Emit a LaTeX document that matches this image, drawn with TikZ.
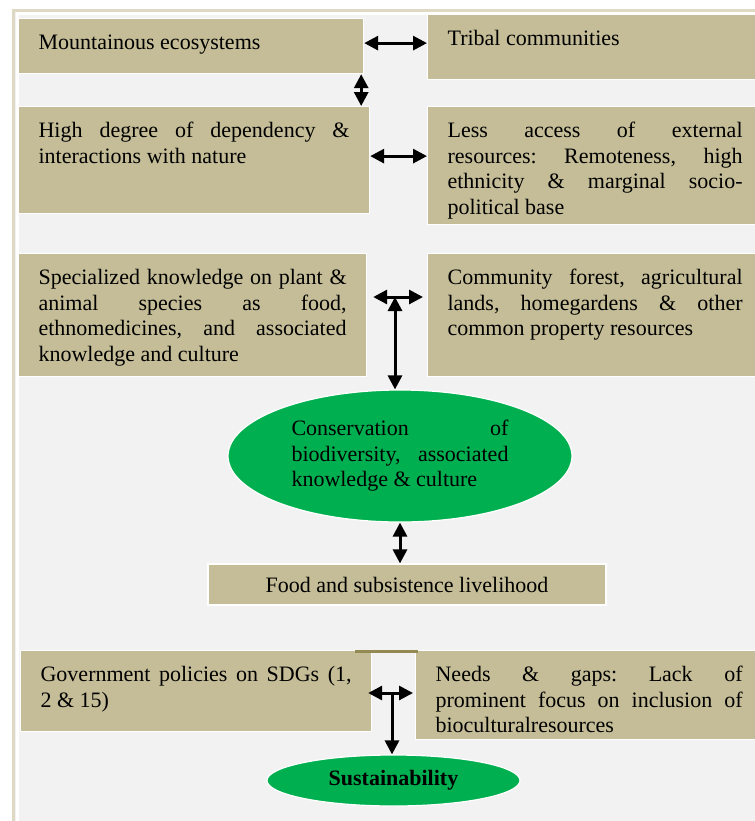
\documentclass[tikz,border=0pt]{standalone}
\usepackage{fontspec}
\setmainfont{Liberation Serif}
\usetikzlibrary{arrows.meta,shapes.geometric}
\frenchspacing
\definecolor{WordTan}{RGB}{196,189,151}
\definecolor{PanelGrey}{RGB}{242,242,242}
\definecolor{FrameTan}{RGB}{221,217,195}
\definecolor{LeafGreen}{RGB}{0,176,80}
\definecolor{OliveLine}{RGB}{148,138,84}
\colorlet{ColourBox}{WordTan}
\colorlet{ColourHl}{LeafGreen}
\tikzset{
  flow text/.style={
    font=\fontsize{11}{12.75}\selectfont\frenchspacing
  },
  tan box/.style={
    flow text,
    anchor=north west,
    fill=ColourBox, draw=white, line width=.6pt,
    align=justify,
    inner xsep=10pt, inner ysep=7pt,
    text height=8.5pt,
  },
  tan strip/.style={
    flow text,
    fill=ColourBox, draw=white, line width=.6pt,
    inner sep=0pt,
  },
  green blob/.style={
    flow text,
    ellipse, fill=ColourHl, draw=white, line width=.6pt,
    inner sep=0pt,
  },
}
\tikzset{
  link/.style={
    line width=1.5pt,
    >={Triangle[length=7pt,width=7pt]}, <->,
  },
  one way/.style={
    line width=1.5pt,
    >={Triangle[length=7pt,width=7pt]}, ->,
  },
}

\begin{document}
\begin{tikzpicture}[x=.5pt,y=-.5pt]
  \useasboundingbox (0,0) rectangle (755,821);
  \fill[white] (0,0) rectangle (755,821);
  \draw[FrameTan, line width=1.5pt, fill=PanelGrey] (13.5,10) rectangle (790,850);
  \draw[white, line width=1.5pt] (17,850) |- (790,13.5);

  \node[tan box, text width=152.5pt, text depth=5pt] (mount) at (18,18)
    {Mountainous ecosystems};
  \node[tan box, text width=147.5pt, text depth=10pt] (tribal) at (427,14)
    {Tribal communities};
  \node[tan box, text width=155.5pt, text depth=31pt] (depend) at (18,106)
    {High degree of dependency \&\linebreak interactions with nature};
  \node[tan box, text width=147.5pt, text depth=36.5pt] (access) at (427,106)
    {Less access of external\linebreak resources: Remoteness, high\linebreak
     ethnicity \& marginal socio-\linebreak political base};
  \node[tan box, text width=154pt, text depth=39pt] (special) at (18,253)
    {Specialized knowledge on plant \&\linebreak animal species as food,\linebreak
     ethnomedicines, and associated\linebreak knowledge and culture};
  \node[tan box, text width=147.5pt, text depth=39pt] (forest) at (427,253)
    {Community forest, agricultural\linebreak lands, homegardens \& other\linebreak
     common property resources};
  \node[green blob, minimum width=172pt, minimum height=66pt,
        text width=108.5pt, align=justify] (conserve) at (400,456)
    {Conservation of\linebreak biodiversity, associated\linebreak knowledge \& culture};
  \node[tan strip, minimum width=199pt, minimum height=20.5pt] (food) at (407,584.5)
    {Food and subsistence livelihood};
  \node[tan box, text width=155.5pt, text depth=18pt] (policy) at (20,650)
    {Government policies on SDGs (1,\linebreak 2 \& 15)};
  \node[tan box, text width=153.5pt, text depth=22pt] (needs) at (415,650)
    {Needs \& gaps: Lack of\linebreak prominent focus on inclusion of\linebreak
     bioculturalresources};
  \node[green blob, minimum width=126.5pt, minimum height=25.5pt,
        font=\fontsize{11}{12.75}\selectfont\bfseries] (sustain) at (393.5,780.5)
    {Sustainability};
  \draw[OliveLine, line width=1.5pt] (355,651) -- (418,651);

  \coordinate (tee a) at (395,297);
  \coordinate (tee b) at (392,693);
  \draw[link] ([yshift=1.5pt]mount.east) -- ([yshift=1.5pt]mount.east -| tribal.west);
  \draw[link] ([xshift=-1.5pt]mount.south east) -- ([xshift=-1.5pt]mount.south east |- depend.north);
  \draw[link] ([yshift=2pt]depend.east) -- ([yshift=2pt]depend.east -| access.west);
  \draw[link, shorten <=3pt, shorten >=2pt] (special.east |- tee a) -- (forest.west |- tee a);
  \draw[link] (tee a) -- (tee a |- conserve.north);
  \draw[link] (conserve.south) -- (conserve.south |- food.north);
  \draw[link, shorten <=-2pt, shorten >=1pt] (policy.east |- tee b) -- (needs.west |- tee b);
  \draw[one way] (tee b) -- (tee b |- sustain.north);
\end{tikzpicture}
\end{document}
